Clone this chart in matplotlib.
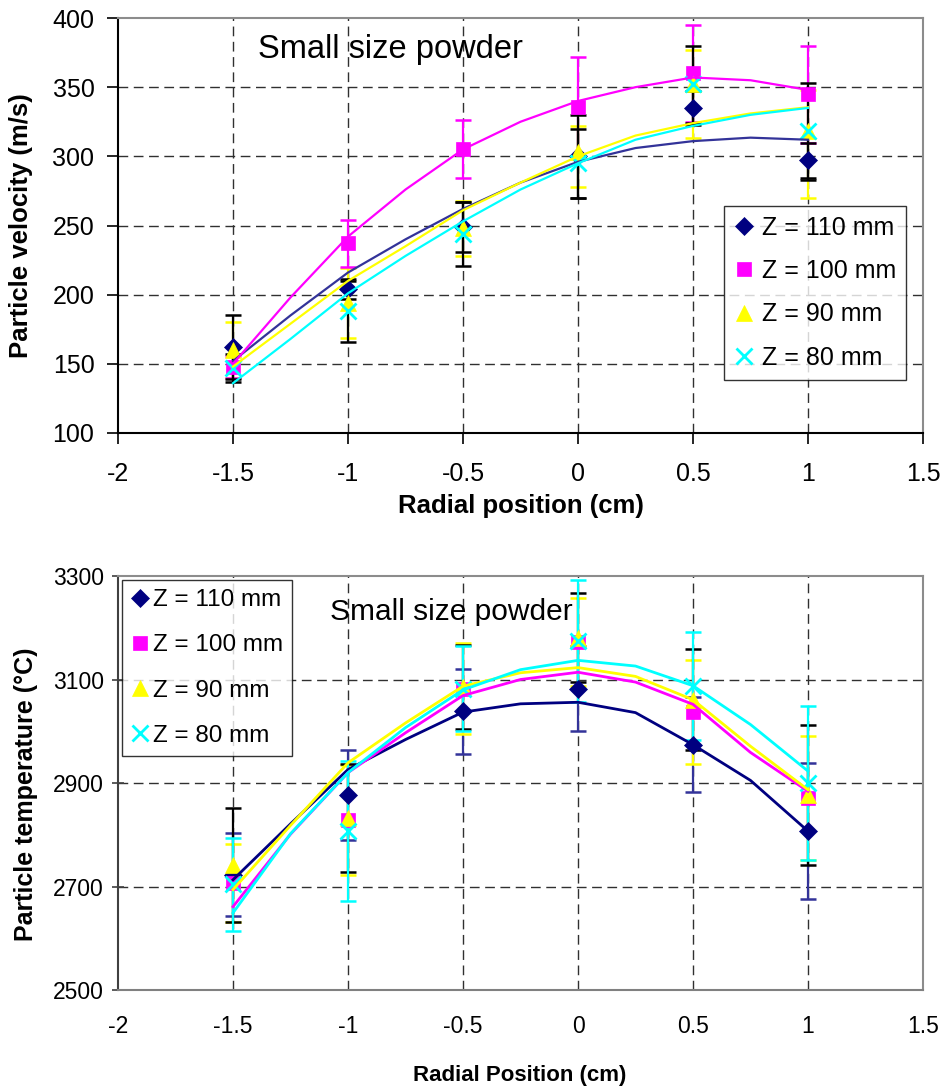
import matplotlib
matplotlib.use("Agg")
import matplotlib.pyplot as plt
from matplotlib.lines import Line2D

plt.rcParams['font.family'] = ['Liberation Sans', 'DejaVu Sans']

# ---------------- data ----------------
radial = [-1.5, -1.0, -0.5, 0.0, 0.5, 1.0]
labels = ["Z = 110 mm", "Z = 100 mm", "Z = 90 mm", "Z = 80 mm"]

# velocity (m/s)
vel_110 = [162, 204, 249, 300, 335, 297]
vel_100 = [148, 237, 305, 336, 360, 345]
vel_90 = [160, 194, 248, 303, 352, 318]
vel_80 = [147, 188, 244, 295, 352, 318]
vel_err_110 = [23, 7, 18, 30, 12, 13]
vel_err_100 = [8, 17, 21, 36, 35, 35]
vel_err_90_low = [20, 25, 20, 25, 39, 48]
vel_err_90_high = [20, 25, 20, 19, 25, 30]
vel_err_80 = [10, 22, 23, 25, 28, 35]

# temperature (deg C)
tmp_110 = [2723, 2876, 3039, 3082, 2974, 2807]
tmp_100 = [2707, 2829, 3082, 3172, 3037, 2871]
tmp_90 = [2742, 2832, 3085, 3181, 3061, 2877]
tmp_80 = [2704, 2807, 3082, 3175, 3088, 2900]
tmp_err_110 = [80, 87, 82, 82, 92, 132]
tmp_err_100 = [75, 106, 88, 85, 100, 120]
tmp_err_90 = [110, 104, 81, 86, 97, 136]
tmp_err_80 = [90, 135, 82, 118, 104, 148]

# trend lines
trend_x = [-1.5, -1.25, -1.0, -0.75, -0.5, -0.25, 0.0, 0.25, 0.5, 0.75, 1.0]
vel_trend_110 = [152, 185, 216, 240, 262, 281, 296, 306, 311, 313.5, 312]
vel_trend_100 = [150, 198, 242, 276, 305, 325, 340, 350, 357, 355, 348]
vel_trend_90 = [148, 179, 210, 235, 261, 281, 300, 315, 324, 331, 335.5]
vel_trend_80 = [136, 168, 201, 228, 253, 276, 295, 312, 322, 330, 335]

tmp_trend_110 = [2713, 2821, 2926, 2984, 3037, 3053, 3056, 3036, 2974, 2905, 2807]
tmp_trend_100 = [2661, 2801, 2920, 2997, 3069, 3100, 3114, 3095, 3052, 2959, 2884]
tmp_trend_90 = [2694, 2818, 2939, 3016, 3087, 3113, 3123, 3106, 3061, 2971, 2887]
tmp_trend_80 = [2649, 2802, 2920, 3007, 3080, 3119, 3137, 3126, 3088, 3013, 2923]

# ---------------- styling ----------------
NAVY = '#000080'
BLUE = '#333399'
MAG = '#FF00FF'
YEL = '#FFFF00'
CYA = '#00FFFF'
markers = ['D', 's', '^', 'x']
mcolors = [NAVY, MAG, YEL, CYA]
msizes = [9, 10, 11, 11]

fig = plt.figure(figsize=(9.46, 10.91), dpi=100)
W, H = 946, 1091


def make_ax(left, top, right, bottom):
    return fig.add_axes([left / W, 1 - bottom / H, (right - left) / W, (bottom - top) / H])


ax1 = make_ax(118, 18, 923, 433)
ax2 = make_ax(118, 576, 923, 990)

grid_kw = dict(color='#303030', lw=1.0, ls=(0, (7, 4)))


def style_axes(ax, yticks, ylim, left_col, bottom_col, fs_tick, xtick_len, xpad, ypad, ytick_dir):
    ax.set_xlim(-2, 1.5)
    ax.set_ylim(*ylim)
    ax.set_xticks([-2, -1.5, -1, -0.5, 0, 0.5, 1, 1.5])
    ax.set_xticklabels(['-2', '-1.5', '-1', '-0.5', '0', '0.5', '1', '1.5'])
    ax.set_yticks(yticks)
    for v in [-1.5, -1, -0.5, 0, 0.5, 1]:
        ax.axvline(v, zorder=1, **grid_kw)
    for v in yticks[1:-1]:
        ax.axhline(v, zorder=1, **grid_kw)
    ax.spines['left'].set_color(left_col)
    ax.spines['bottom'].set_color(bottom_col)
    ax.spines['top'].set_color('#8c8c8c')
    ax.spines['right'].set_color('#8c8c8c')
    for s in ax.spines.values():
        s.set_linewidth(1.5)
    ax.tick_params(axis='x', direction='out', length=xtick_len, width=1.2,
                   labelsize=fs_tick, pad=xpad, color=bottom_col)
    ax.tick_params(axis='y', direction=ytick_dir, length=8, width=1.2,
                   labelsize=fs_tick, pad=ypad, color=left_col)


style_axes(ax1, [100, 150, 200, 250, 300, 350, 400], (100, 400), 'black', 'black', 18, 8, 13, 9, 'out')
style_axes(ax2, [2500, 2700, 2900, 3100, 3300], (2500, 3300), '#404040', '#808080', 16.5, 0, 18, 6, 'inout')

eb_kw = dict(fmt='none', elinewidth=1.6, capsize=6, capthick=1.8)

# ---------- top: velocity ----------
vel_sets = [vel_110, vel_100, vel_90, vel_80]
vel_errs = [vel_err_110, vel_err_100, [vel_err_90_low, vel_err_90_high], vel_err_80]
vel_ecols = ['black', MAG, YEL, 'black']
vel_trends = [vel_trend_110, vel_trend_100, vel_trend_90, vel_trend_80]
vel_lcols = [BLUE, MAG, YEL, CYA]
for i in [2, 1, 0, 3]:
    ax1.errorbar(radial, vel_sets[i], yerr=vel_errs[i], ecolor=vel_ecols[i], zorder=2, **eb_kw)
for i in range(4):
    ax1.plot(radial, vel_sets[i], ls='none', marker=markers[i], ms=msizes[i],
             color=mcolors[i], mew=2 if markers[i] == 'x' else 0.5, zorder=3)
for i in range(4):
    ax1.plot(trend_x, vel_trends[i], color=vel_lcols[i], lw=1.6, zorder=4)

ax1.set_ylabel('Particle velocity (m/s)', fontsize=18.5, fontweight='bold')
ax1.yaxis.set_label_coords(-0.106, 0.5)
ax1.set_xlabel('Radial position (cm)', fontsize=18.5, fontweight='bold')
ax1.xaxis.set_label_coords(0.501, -0.148)
ax1.text(0.339, 0.923, 'Small size powder', transform=ax1.transAxes,
         fontsize=23.5, ha='center', va='center')

# ---------- bottom: temperature ----------
tmp_sets = [tmp_110, tmp_100, tmp_90, tmp_80]
tmp_errs = [tmp_err_110, tmp_err_100, tmp_err_90, tmp_err_80]
tmp_ecols = [BLUE, YEL, 'black', CYA]
tmp_trends = [tmp_trend_110, tmp_trend_100, tmp_trend_90, tmp_trend_80]
tmp_lcols = [NAVY, MAG, YEL, CYA]
for i in [0, 1, 2, 3]:
    ax2.errorbar(radial, tmp_sets[i], yerr=tmp_errs[i], ecolor=tmp_ecols[i], zorder=2, **eb_kw)
for i in range(4):
    ax2.plot(radial, tmp_sets[i], ls='none', marker=markers[i], ms=msizes[i],
             color=mcolors[i], mew=2 if markers[i] == 'x' else 0.5, zorder=3)
for i in range(4):
    ax2.plot(trend_x, tmp_trends[i], color=tmp_lcols[i], lw=2.0, zorder=4)

ax2.set_ylabel('Particle temperature (°C)', fontsize=18, fontweight='bold')
ax2.yaxis.set_label_coords(-0.099, 0.473)
ax2.set_xlabel('Radial Position (cm)', fontsize=16, fontweight='bold')
ax2.xaxis.set_label_coords(0.499, -0.181)
ax2.text(0.414, 0.913, 'Small size powder', transform=ax2.transAxes,
         fontsize=21.5, ha='center', va='center')

# ---------- legends ----------
def handles():
    return [Line2D([], [], ls='none', marker=markers[i], ms=msizes[i],
                   color=mcolors[i], mew=2 if markers[i] == 'x' else 0.5) for i in range(4)]


leg1 = ax1.legend(handles(), labels, loc='upper right', bbox_to_anchor=(0.979, 0.547),
                  fontsize=18, frameon=True, fancybox=False, edgecolor='black',
                  handlelength=0.8, handletextpad=0.3, labelspacing=0.77,
                  borderpad=0.4, borderaxespad=0)
leg1.get_frame().set_linewidth(1.0)
leg1.set_zorder(6)

leg2 = ax2.legend(handles(), labels, loc='upper left', bbox_to_anchor=(0.005, 0.990),
                  fontsize=17.5, frameon=True, fancybox=False, edgecolor='black',
                  handlelength=0.7, handletextpad=0.2, labelspacing=0.95,
                  borderpad=0.38, borderaxespad=0)
leg2.get_frame().set_linewidth(1.0)
leg2.set_zorder(6)

fig.savefig('out.png', dpi=100)
